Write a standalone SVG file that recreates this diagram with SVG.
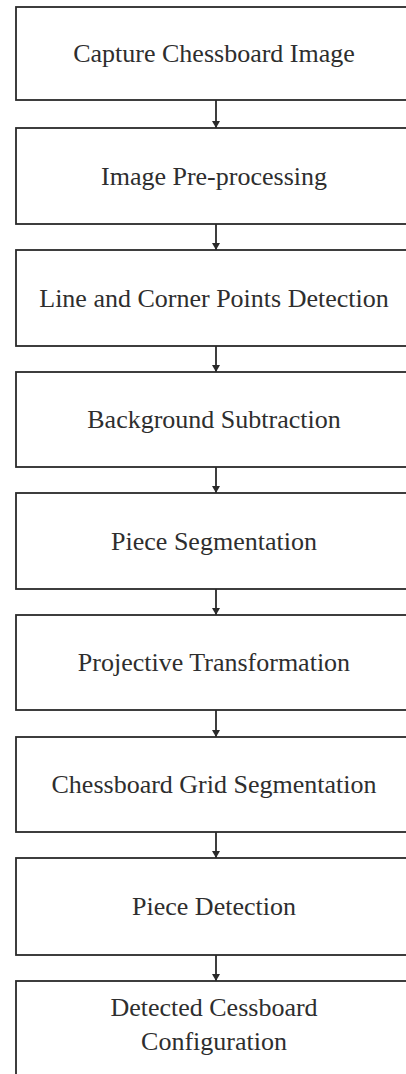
<svg xmlns="http://www.w3.org/2000/svg" width="406" height="1074" viewBox="0 0 406 1074">
  <style>
    .box { fill: #ffffff; stroke: #2a2a2a; stroke-width: 1.8; }
    .lbl { font-family: "Liberation Serif", "Times New Roman", serif; font-size: 26px; fill: #2e2e2e; text-anchor: middle; }
    .edge { stroke: #2a2a2a; stroke-width: 1.8; fill: none; marker-end: url(#head); }
  </style>
  <defs>
    <marker id="head" viewBox="0 0 8 9" refX="8" refY="4.5" markerUnits="userSpaceOnUse" markerWidth="9" markerHeight="8" orient="auto">
      <path d="M0,0 L8,4.5 L0,9 Z" fill="#2a2a2a"/>
    </marker>
  </defs>
  <rect width="406" height="1074" fill="#ffffff"/>

  <g id="connectors">
    <line class="edge" x1="216" y1="100" x2="216" y2="128"/>
    <line class="edge" x1="216" y1="224" x2="216" y2="250"/>
    <line class="edge" x1="216" y1="346" x2="216" y2="372"/>
    <line class="edge" x1="216" y1="467" x2="216" y2="493"/>
    <line class="edge" x1="216" y1="589" x2="216" y2="615"/>
    <line class="edge" x1="216" y1="710" x2="216" y2="737"/>
    <line class="edge" x1="216" y1="832" x2="216" y2="858"/>
    <line class="edge" x1="216" y1="955" x2="216" y2="981"/>
  </g>

  <g id="capture">
    <rect class="box" x="16" y="7" width="410" height="93"/>
    <text class="lbl" x="214" y="62">Capture Chessboard Image</text>
  </g>
  <g id="preprocess">
    <rect class="box" x="16" y="128" width="410" height="96"/>
    <text class="lbl" x="214" y="185">Image Pre-processing</text>
  </g>
  <g id="lines-corners">
    <rect class="box" x="16" y="250" width="410" height="96"/>
    <text class="lbl" x="214" y="307">Line and Corner Points Detection</text>
  </g>
  <g id="background">
    <rect class="box" x="16" y="372" width="410" height="95"/>
    <text class="lbl" x="214" y="428">Background Subtraction</text>
  </g>
  <g id="piece-seg">
    <rect class="box" x="16" y="493" width="410" height="96"/>
    <text class="lbl" x="214" y="550">Piece Segmentation</text>
  </g>
  <g id="projective">
    <rect class="box" x="16" y="615" width="410" height="95"/>
    <text class="lbl" x="214" y="671">Projective Transformation</text>
  </g>
  <g id="grid-seg">
    <rect class="box" x="16" y="737" width="410" height="95"/>
    <text class="lbl" x="214" y="793">Chessboard Grid Segmentation</text>
  </g>
  <g id="piece-detect">
    <rect class="box" x="16" y="858" width="410" height="97"/>
    <text class="lbl" x="214" y="915">Piece Detection</text>
  </g>
  <g id="result">
    <rect class="box" x="16" y="981" width="410" height="120"/>
    <text class="lbl" x="214" y="1016">Detected Cessboard</text>
    <text class="lbl" x="214" y="1050">Configuration</text>
  </g>
</svg>
